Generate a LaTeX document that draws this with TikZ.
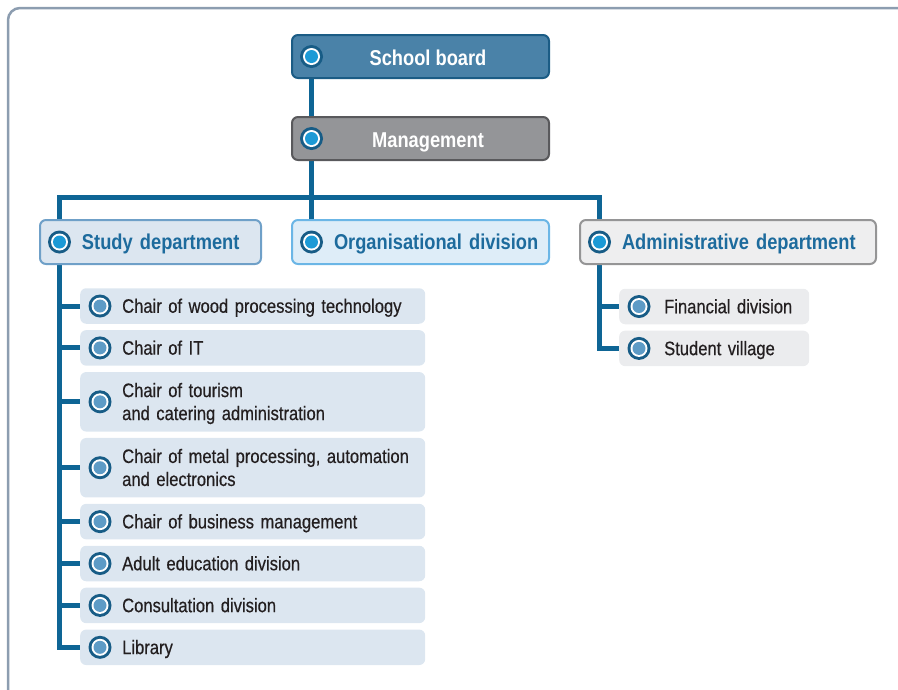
\documentclass[tikz,border=0pt]{standalone}
\usepackage{fontspec}
\setmainfont{Liberation Sans}[FakeStretch=0.85]
\newfontfamily\itemfont{Liberation Sans}[FakeStretch=0.85,FakeBold=0.5]
\usetikzlibrary{positioning, backgrounds}
\definecolor{LinkBlue}{HTML}{0E6595}
\definecolor{FrameGray}{HTML}{8C9DB0}
\definecolor{BoardFill}{HTML}{4A82A8}
\definecolor{BoardLine}{HTML}{1B5C85}
\definecolor{MgmtFill}{HTML}{949598}
\definecolor{MgmtLine}{HTML}{59595C}
\definecolor{StudyFill}{HTML}{DCE6F0}
\definecolor{StudyLine}{HTML}{6FA0C8}
\definecolor{OrgFill}{HTML}{DEEDF8}
\definecolor{OrgLine}{HTML}{6BB6E6}
\definecolor{AdminFill}{HTML}{EEEEEF}
\definecolor{AdminLine}{HTML}{959596}
\definecolor{SubBlue}{HTML}{DCE6F0}
\definecolor{SubGray}{HTML}{EBECEE}
\definecolor{DeptText}{HTML}{1D6B9D}
\definecolor{ItemText}{HTML}{231F20}
\definecolor{DotRing}{HTML}{175C86}
\definecolor{DotCyan}{HTML}{1C9AD6}
\definecolor{DotSteel}{HTML}{5D9BC6}

\begin{document}
\begin{tikzpicture}[x=1pt, y=-1pt,
			every node/.style={font=\itemfont\fontsize{19.5}{23}\selectfont},
			box/.style={draw,rectangle,rounded corners=6pt,line width=2pt,anchor=west,inner xsep=0pt},
			top/.style={box,minimum width=257pt,minimum height=43pt,text=white,
				font=\bfseries\fontsize{21.5}{26}\selectfont,text height=18.4pt,text depth=0pt,
				execute at begin node={\hspace*{15pt}}},
			dept/.style={box,minimum height=44pt,text width=#1,align=left,text=DeptText,
				font=\bfseries\fontsize{21.5}{26}\selectfont,text height=15.8pt,text depth=0pt,
				execute at begin node={\leftskip=42pt}},
			sub/.style={rectangle,rounded corners=6pt,fill=SubBlue,text=ItemText,
				minimum height=35.5pt,text width=345pt,inner xsep=0pt,align=left,
				text height=13.5pt,text depth=0pt,
				execute at begin node={\leftskip=42pt}},
			twoline/.style={minimum height=59.5pt,text depth=23pt},
			subgray/.style={sub,text width=190pt,fill=SubGray,
				execute at begin node={\leftskip=45pt}},
			dot/.style={circle,inner sep=0pt,minimum size=23pt,fill=DotRing,
				path picture={
					\fill[white] (path picture bounding box.center) circle (8.5pt);
					\fill[#1] (path picture bounding box.center) circle (6.5pt);}},
			link/.style={draw=LinkBlue,line width=5pt},
			frame/.style={draw=FrameGray,line width=2.5pt,rounded corners=12pt}
		]
			\useasboundingbox (0,0) rectangle (898,689);
			\begin{scope}
				\clip (0,0) rectangle (898,689);
				\draw[frame] (8,8) rectangle (930,720);
			\end{scope}

			% top levels
			\node (board) [top,fill=BoardFill,draw=BoardLine] at (291,56.5) {School board};
			\node (mgmt) [top,fill=MgmtFill,draw=MgmtLine] at (291,138.5) {Management};

			% departments
			\node (study) [dept=221pt,fill=StudyFill,draw=StudyLine] at (39,242) {Study department};
			\node (org) [dept=257pt,fill=OrgFill,draw=OrgLine] at (291,242) {Organisational division};
			\node (admin) [dept=296pt,fill=AdminFill,draw=AdminLine] at (579,242) {Administrative department};
			\coordinate (bus) at (312,197);

			% study department
			\node (wood) [sub,anchor=west] at (80,306) {Chair of wood processing technology};
			\node (it) [sub,below=6pt of wood] {Chair of IT};
			\node (tourism) [sub,twoline,below=6pt of it] {Chair of tourism\\and catering administration};
			\node (metal) [sub,twoline,below=6pt of tourism] {Chair of metal processing, automation\\and electronics};
			\node (business) [sub,below=6pt of metal] {Chair of business management};
			\node (adult) [sub,below=6pt of business] {Adult education division};
			\node (consult) [sub,below=6pt of adult] {Consultation division};
			\node (library) [sub,below=6pt of consult] {Library};

			% administrative department
			\node (finance) [subgray,anchor=west] at (619,306.5) {Financial division};
			\node (village) [subgray,below=6pt of finance] {Student village};

			\foreach \n in {board,mgmt,study,org,admin}
				\node (\n-dot) [dot=DotCyan] at ([xshift=20.5pt]\n.west) {};
			\foreach \n in {wood,it,tourism,metal,business,adult,consult,library,finance,village}
				\node (\n-dot) [dot=DotSteel] at ([xshift=20pt]\n.west) {};

			\begin{scope}[on background layer]
				\draw[link] (board-dot) -- (mgmt-dot);
				\draw[link] (mgmt-dot) -- (org-dot);
				\draw[link] (study-dot) |- (bus) -| (admin-dot);
				\draw[link] (study-dot) |- (library);
				\foreach \c in {wood,it,tourism,metal,business,adult,consult}
					\draw[link] (study-dot |- \c) -- (\c);
				\draw[link] (admin-dot) |- (village);
				\draw[link] (admin-dot |- finance) -- (finance);
			\end{scope}
		\end{tikzpicture}
\end{document}
